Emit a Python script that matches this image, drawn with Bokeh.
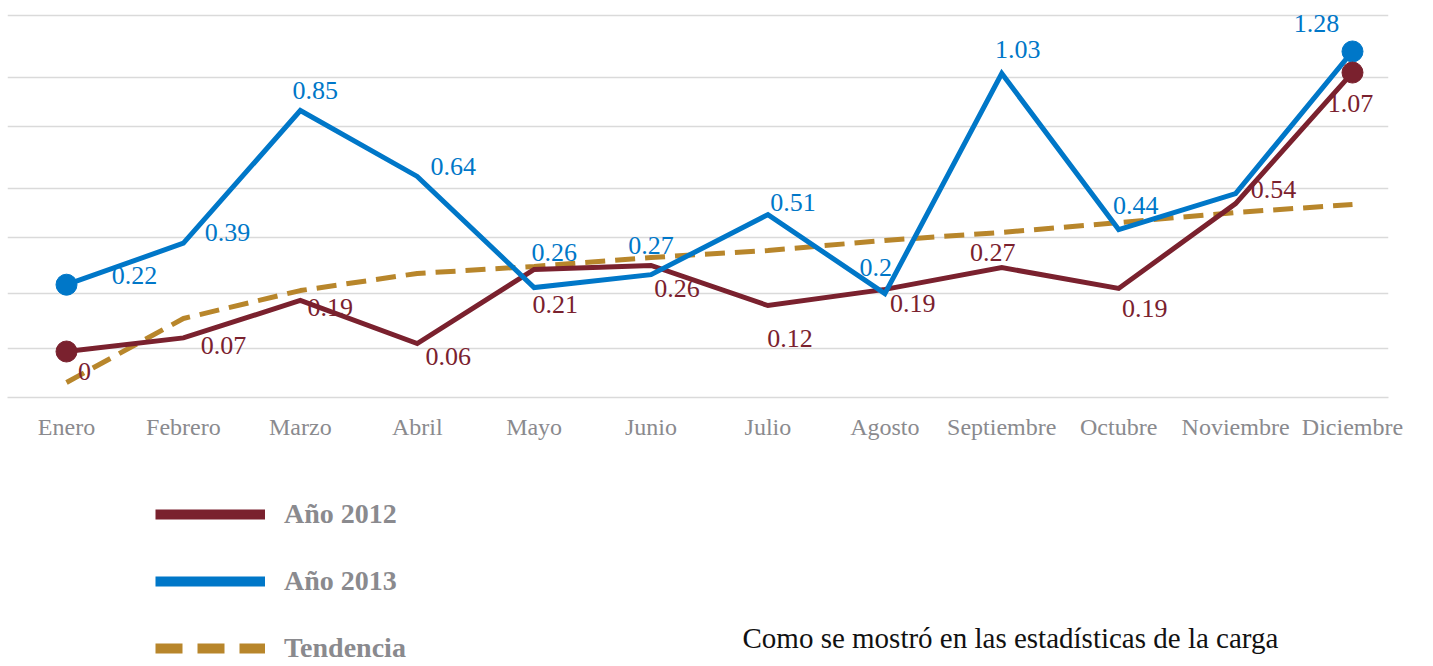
from bokeh.plotting import figure
from bokeh.layouts import column
from bokeh.models import (ColumnDataSource, Range1d, FixedTicker, Legend, LegendItem, Label)
from bokeh.embed import file_html
from bokeh.resources import INLINE

# ---------------- data ----------------
months = ["Enero", "Febrero", "Marzo", "Abril", "Mayo", "Junio", "Julio",
          "Agosto", "Septiembre", "Octubre", "Noviembre", "Diciembre"]
# line heights as drawn in the picture (no y axis shown)
y2012 = [0.0, 0.058, 0.218, 0.034, 0.350, 0.367, 0.196, 0.265, 0.358, 0.269, 0.631, 1.190]
y2013 = [0.285, 0.462, 1.028, 0.747, 0.273, 0.328, 0.584, 0.247, 1.186, 0.520, 0.674, 1.280]
trend = [-0.132, 0.141, 0.260, 0.333, 0.363, 0.401, 0.431, 0.474, 0.508, 0.550, 0.593, 0.627]
# value labels printed on the chart
labels2012 = ["0", "0.07", "0.19", "0.06", "0.21", "0.26", "0.12", "0.19", "0.27", "0.19", "0.54", "1.07"]
labels2013 = ["0.22", "0.39", "0.85", "0.64", "0.26", "0.27", "0.51", "0.2", "1.03", "0.44", "", "1.28"]
grid_ticks = [0.0128, 0.2474, 0.4863, 0.6954, 0.9599, 1.1689, 1.4334]
series_names = ["Año 2012", "Año 2013", "Tendencia"]
body_text = "Como se mostró en las estadísticas de la carga"

# label placement (screen px offsets from the point)
off2013_x = [68, 44, 15, 36, 20, 0, 25, -9, 16, 17, 0, -36]
off2013_y = [-9, -11, -20, -10, -35, -29, -12, -26, -24, -24, 0, -28]
off2012_x = [18, 40, 30, 31, 21, 26, 22, 28, -9, 26, 38, -2]
off2012_y = [20, 8, 7, 13, 35, 23, 33, 14, -15, 20, -14, 31]

RED = "#7A212E"
BLUE = "#0077C8"
GOLD = "#B8862B"
GRID = "#DADADA"
GREY = "#8A8A8E"
FONT = "Liberation Serif"
W = 1433
FL, FR = 7, 45   # frame borders (left / right)

xs = list(range(len(months)))

# ---------------- chart ----------------
p = figure(width=W, height=460, output_backend="svg", toolbar_location=None,
           x_range=Range1d(-0.5047, 11.308), y_range=Range1d(-0.1962, 1.4974),
           min_border_left=FL, min_border_right=FR, min_border_top=0,
           min_border_bottom=63)
p.outline_line_color = None
p.background_fill_color = "white"
p.border_fill_color = "white"

p.yaxis.visible = False
p.xgrid.visible = False
p.ygrid.ticker = FixedTicker(ticks=grid_ticks)
p.ygrid.grid_line_color = GRID
p.ygrid.grid_line_width = 1.3

p.xaxis.ticker = FixedTicker(ticks=xs)
p.xaxis.major_label_overrides = {i: m for i, m in enumerate(months)}
p.xaxis.major_label_text_font = FONT
p.xaxis.major_label_text_font_size = "24px"
p.xaxis.major_label_text_color = GREY
p.xaxis.major_label_standoff = 10
p.xaxis.major_tick_line_color = None
p.xaxis.minor_tick_line_color = None
p.xaxis.axis_line_color = GRID
p.xaxis.axis_line_width = 1.3

src = ColumnDataSource(dict(x=xs, y12=y2012, y13=y2013, tr=trend,
                            l12=labels2012, l13=labels2013,
                            ox13=off2013_x, oy13=off2013_y,
                            ox12=off2012_x, oy12=off2012_y))

p.line("x", "tr", source=src, line_color=GOLD, line_width=5, line_dash="20 10")
p.line("x", "y12", source=src, line_color=RED, line_width=5, line_join="miter")
p.line("x", "y13", source=src, line_color=BLUE, line_width=5, line_join="miter")

ends = [0, len(months) - 1]
p.scatter([xs[i] for i in ends], [y2013[i] for i in ends], size=21,
          fill_color=BLUE, line_color=BLUE)
p.scatter([xs[i] for i in ends], [y2012[i] for i in ends], size=21,
          fill_color=RED, line_color=RED)

p.text("x", "y13", text="l13", source=src, x_offset="ox13", y_offset="oy13",
       text_align="center", text_baseline="middle", text_color=BLUE,
       text_font={"value": FONT}, text_font_size="26px")
p.text("x", "y12", text="l12", source=src, x_offset="ox12", y_offset="oy12",
       text_align="center", text_baseline="middle", text_color=RED,
       text_font={"value": FONT}, text_font_size="26px")

# ---------------- legend + text below ----------------
H2 = 206
q = figure(width=W, height=H2, output_backend="svg", toolbar_location=None,
           x_range=Range1d(FL, W - FR), y_range=Range1d(0, H2),
           min_border_left=FL, min_border_right=FR, min_border_top=0, min_border_bottom=0)
q.axis.visible = False
q.grid.visible = False
q.outline_line_color = None
q.background_fill_color = "white"
q.border_fill_color = "white"

# legend swatch renderers (placed outside the visible range)
proxy = ColumnDataSource(dict(x=[-60, -50], y=[-60, -60]))
lr1 = q.line("x", "y", source=proxy, line_color=RED, line_width=10)
lr2 = q.line("x", "y", source=proxy, line_color=BLUE, line_width=10)
lr3 = q.line("x", "y", source=proxy, line_color=GOLD, line_width=10, line_dash="27 15")

legend = Legend(items=[LegendItem(label=series_names[0], renderers=[lr1]),
                       LegendItem(label=series_names[1], renderers=[lr2]),
                       LegendItem(label=series_names[2], renderers=[lr3])],
                location=(155 - FL, 2), orientation="vertical",
                glyph_width=110, glyph_height=30, label_height=30,
                label_standoff=19, spacing=35, padding=0, margin=0,
                border_line_color=None, background_fill_alpha=0,
                label_text_font=FONT, label_text_font_style="bold",
                label_text_font_size="28px", label_text_color=GREY)
q.add_layout(legend, "center")

body = Label(x=742, y=29, text=body_text,
             text_font=FONT, text_font_size="29px", text_color="#111111",
             text_baseline="alphabetic")
q.add_layout(body)

open("out.html", "w").write(file_html(column(p, q, spacing=0), INLINE))
